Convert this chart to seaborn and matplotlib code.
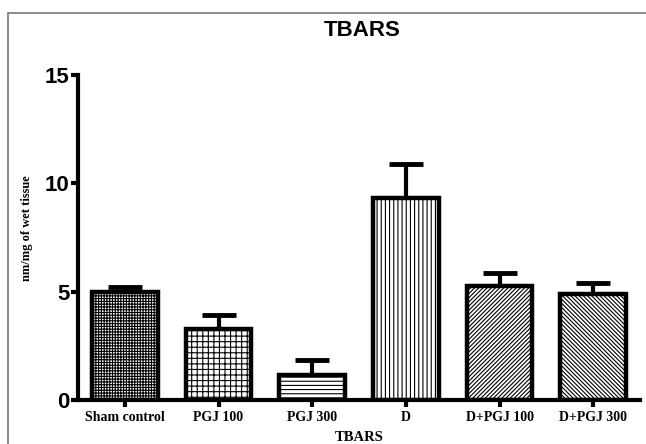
import matplotlib
matplotlib.use("Agg")
import matplotlib.pyplot as plt
import seaborn as sns
import pandas as pd
from matplotlib.patches import Rectangle

categories = ["Sham control", "PGJ 100", "PGJ 300", "D", "D+PGJ 100", "D+PGJ 300"]
means = [4.98, 3.30, 1.17, 9.34, 5.24, 4.90]
sem = [0.22, 0.62, 0.68, 1.54, 0.61, 0.48]
yticks = [0, 5, 10, 15]
hatches = ["++++++", "+++", "----", "||||", "////////", "\\\\\\\\\\\\\\\\"]

sns.set_theme(style="white")
plt.rcParams["hatch.linewidth"] = 0.8
plt.rcParams["hatch.color"] = "black"
plt.rcParams["text.color"] = "black"
plt.rcParams["axes.labelcolor"] = "black"
plt.rcParams["xtick.color"] = "black"
plt.rcParams["ytick.color"] = "black"

df = pd.DataFrame({"group": categories, "value": means})

fig = plt.figure(figsize=(6.46, 4.44), dpi=100)
ax = fig.add_axes([78 / 646, 44 / 444, 562 / 646, 325 / 444])

# error bars behind bars (only upper half visible)
ax.errorbar(range(len(categories)), means, yerr=sem, fmt="none", ecolor="black",
            elinewidth=3, capsize=12, capthick=3.5, zorder=1)

sns.barplot(data=df, x="group", y="value", color="white", edgecolor="black",
            linewidth=3.2, width=0.7, errorbar=None, ax=ax, zorder=2)

for p, h in zip(ax.patches, hatches):
    p.set_hatch(h)
    p.set_facecolor("white")
    p.set_edgecolor("black")
    p.set_zorder(2)

ax.set_xlim(-0.5, 5.5)
ax.set_ylim(0, 15)
ax.set_yticks(yticks)
ax.set_yticklabels([str(t) for t in yticks], fontfamily="Liberation Sans",
                   fontweight="bold", fontsize=16, color="black")
ax.set_xticks(range(len(categories)))
ax.set_xticklabels(categories, fontfamily="Liberation Serif", fontweight="bold",
                   fontsize=10, color="black")

for side in ["top", "right"]:
    ax.spines[side].set_visible(False)
for side in ["left", "bottom"]:
    ax.spines[side].set_linewidth(3)
    ax.spines[side].set_color("black")

ax.tick_params(axis="both", which="major", direction="out", length=5, width=3,
               color="black", left=True, bottom=True, pad=1)
ax.tick_params(axis="x", pad=3)

ax.set_xlabel("TBARS", fontfamily="Liberation Serif", fontweight="bold",
              fontsize=10.5, color="black")
ax.xaxis.set_label_coords(0.5, -0.095)
ax.set_ylabel("nm/mg of wet tissue", fontfamily="Liberation Serif",
              fontweight="bold", fontsize=9, color="black")
ax.yaxis.set_label_coords(-0.08, 0.53)

fig.text(362 / 646, 1 - 31 / 444, "TBARS", ha="center", va="center",
         fontfamily="Liberation Sans", fontweight="bold", fontsize=16, color="black")

# outer frame (left and top edges visible)
frame = Rectangle((8 / 646, -0.05), 1.1, 1 - 13 / 444 + 0.05, transform=fig.transFigure,
                  fill=False, edgecolor="#777777", linewidth=1.2, zorder=0)
fig.patches.append(frame)

fig.savefig("out.png", dpi=100)
